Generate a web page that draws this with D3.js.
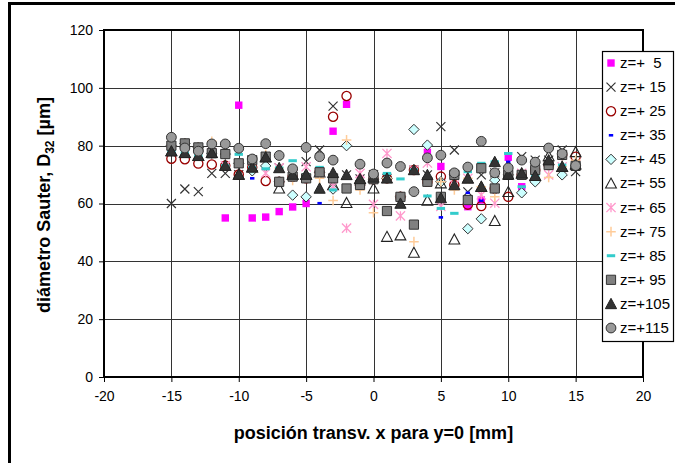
<!DOCTYPE html>
<html>
<head>
<meta charset="utf-8">
<script src="https://cdn.jsdelivr.net/npm/d3@7"></script>
<style>
  body { margin: 0; background: #fff; }
  svg { display: block; }
  text { font-family: "Liberation Sans", Arial, sans-serif; fill: #000; }
</style>
</head>
<body>
<div id="chart"></div>
<script>
// transverse positions (mm)
const xPositions = [-15, -14, -13, -12, -11, -10, -9, -8, -7, -6, -5, -4, -3, -2, -1, 0,
                    1, 2, 3, 4, 5, 6, 7, 8, 9, 10, 11, 12, 13, 14, 15];

const seriesLabels = ["z=+  5", "z=+ 15", "z=+ 25", "z=+ 35", "z=+ 45", "z=+ 55",
                      "z=+ 65", "z=+ 75", "z=+ 85", "z=+ 95", "z=+105", "z=+115"];

const xTicks = [-20, -15, -10, -5, 0, 5, 10, 15, 20];
const yTicks = [0, 20, 40, 60, 80, 100, 120];

// D32 values, one array per axial position
const z5   = [79, 80.8, 79.4, 77.4, 55, 94, 55, 55.3, 57.2, 58.8, 60, 70.8, 85, 94.3, 66.4, 68.4, 57.4, 62.3, 52.7, 77.7, 72.8, 69.9, 58.9, 61.2, 65.2, 76, 65.8, 71.6, 73.3, 76.8, 73];
const z15  = [60, 65, 64.1, 70.4, 70.4, 70, 72.5, 76.2, 72.3, 70, 74.5, 78.5, 93.7, 69.9, 68.5, 70, 68.7, 60, 71.6, 69.9, 86.6, 78.5, 64, 69.9, 70.6, 69.9, 76.2, 75, 75, 78.5, 71];
const z25  = [75.5, 75.3, 73.8, 73.5, 73.1, 70, 72.5, 67.8, 67.5, 69.3, 68.7, 70.8, 90, 97.2, 66.4, 68.4, 68.7, 62.3, 71.6, 67.5, 69.3, 66.4, 59.6, 59.1, 65.2, 62.3, 69.9, 71.6, 73.3, 76.8, 76.2];
const z35  = [78.1, 77.5, 76.5, 77.5, 73.1, 70, 68.7, 76, 72.3, 70, 62.9, 60.1, 70.6, 69.9, 68.5, 69, 68.7, 60, 71.6, 69.9, 55.2, 66.4, 63.7, 61, 74.4, 74.4, 70.4, 69.6, 75, 72.7, 73.5];
const z45  = [80, 80.8, 79.4, 77.4, 77.1, 73.9, 71.3, 73, 67.5, 62.9, 62.3, 70.8, 65, 80, 66.4, 68.4, 68.7, 62.3, 85.6, 80.2, 67.5, 69.9, 51.3, 54.7, 68.1, 69.9, 63.7, 67.5, 73.3, 69.9, 73];
const z55  = [78.1, 77.5, 76.5, 77.5, 73.1, 70, 72.5, 76, 65.2, 70, 70, 70.8, 66.4, 60.2, 68.5, 65.2, 48.5, 49, 43, 61, 67, 47.6, 68.7, 65.8, 54, 64, 70.4, 69.6, 76.4, 72.7, 77.8];
const z65  = [78.1, 77.5, 76.5, 77.5, 73.1, 73.9, 72.5, 70.5, 72.3, 70, 72.7, 70.8, 66, 51.5, 70.4, 59.7, 77.3, 55.7, 71.6, 74, 59, 66.4, 68.7, 63, 60.1, 70, 70.4, 69.6, 69.9, 72.7, 73.5];
const z75  = [80, 80.8, 79.4, 81.5, 77.1, 73.9, 75, 77, 72.3, 68, 70, 68.7, 61, 82, 64.7, 56.8, 68.7, 62.3, 46.8, 67.5, 67.5, 64.7, 68.7, 65.8, 62.3, 69.9, 70.4, 71.6, 69, 72.7, 75];
const z85  = [78.1, 77.5, 76.5, 77.5, 73.1, 77, 72.5, 72, 72.3, 74.8, 70, 72.5, 64.7, 65.2, 66.4, 70.4, 70.4, 68.5, 71.6, 62.6, 58.3, 56.6, 71, 73.9, 74.4, 77.3, 65.8, 69.6, 73.3, 73.3, 73.5];
const z95  = [80, 80.8, 79.4, 77.4, 77.1, 73.9, 75, 76.2, 67.5, 69.3, 68.7, 70.8, 68.7, 65.2, 66.4, 68.4, 57.4, 62.3, 52.7, 67.5, 62.3, 69.9, 61.2, 72.2, 65.2, 69.9, 69.9, 71.6, 73.3, 76.8, 73];
const z105 = [78.1, 77.5, 76.5, 77.5, 73.1, 70, 72.5, 76, 72.3, 70, 70, 65.2, 70.6, 69.9, 68.5, 69, 68.7, 60, 71.6, 69.9, 61.9, 66.4, 68.7, 65.8, 74.4, 70, 70.4, 69.6, 75, 72.7, 73.5];
const z115 = [82.9, 79.2, 78.1, 80.6, 80.6, 79.1, 75.4, 80.7, 76.6, 72, 79.4, 76.2, 75, null, 73.6, 70.2, 74, 72.8, 64.1, 75.8, 76.7, 70.6, 72.6, 81.5, 70.6, 72.3, 75, 74.3, 79.2, 77.2, 73.1];

const allSeries = [z5, z15, z25, z35, z45, z55, z65, z75, z85, z95, z105, z115];

// marker look for each series (same order)
const markerStyles = [
  {shape: "square",   size: 3.7, fill: "#ff00ff", stroke: "none"},
  {shape: "x",        size: 4.5, fill: "none",    stroke: "#333", width: 1.2},
  {shape: "circle",   size: 4.6, fill: "none",    stroke: "#990000", width: 1.3},
  {shape: "dash",     size: 2.2, fill: "#0000ff", stroke: "none", h: 1.3},
  {shape: "diamond",  size: 5.2, fill: "#ccffff", stroke: "#333", width: 1},
  {shape: "triangle", size: 5.4, fill: "none",    stroke: "#222", width: 1.1},
  {shape: "asterisk", size: 4.6, fill: "none",    stroke: "#ff99cc", width: 1.3},
  {shape: "plus",     size: 4.8, fill: "none",    stroke: "#ffcc99", width: 1.5},
  {shape: "dash",     size: 4.2, fill: "#33cccc", stroke: "none", h: 1.5},
  {shape: "square",   size: 4.6, fill: "#808080", stroke: "#333", width: 1},
  {shape: "triangle", size: 5.6, fill: "#333333", stroke: "#222", width: 1},
  {shape: "circle",   size: 4.9, fill: "#999999", stroke: "#333", width: 1}
];

function markerPath(st) {
  const s = st.size;
  switch (st.shape) {
    case "square": return `M${-s},${-s}H${s}V${s}H${-s}Z`;
    case "circle": return `M${s},0A${s},${s} 0 1,1 ${-s},0A${s},${s} 0 1,1 ${s},0Z`;
    case "diamond": return `M0,${-s}L${s},0L0,${s}L${-s},0Z`;
    case "triangle": return `M0,${-s}L${s},${s * 0.85}L${-s},${s * 0.85}Z`;
    case "x": return `M${-s},${-s}L${s},${s}M${-s},${s}L${s},${-s}`;
    case "plus": return `M${-s},0H${s}M0,${-s}V${s}`;
    case "asterisk": return `M${-s},${-s}L${s},${s}M${-s},${s}L${s},${-s}M0,${-s}V${s}`;
    case "dash": return `M${-s},${-st.h}H${s}V${st.h}H${-s}Z`;
  }
}

const W = 675, H = 463;
const plot = {left: 104, right: 643, top: 30, bottom: 377};

const svg = d3.select("#chart").append("svg")
  .attr("width", W)
  .attr("height", H);

// outer chart frame
svg.append("rect")
  .attr("x", 9.5).attr("y", 3.5)
  .attr("width", 720).attr("height", 520)
  .attr("fill", "none").attr("stroke", "#000").attr("stroke-width", 3);

const x = d3.scaleLinear().domain([-20, 20]).range([plot.left, plot.right]);
const y = d3.scaleLinear().domain([0, 120]).range([plot.bottom, plot.top]);

// gridlines
svg.append("g").selectAll("line")
  .data(yTicks.filter(d => d > 0 && d < 120))
  .join("line")
  .attr("x1", plot.left).attr("x2", plot.right)
  .attr("y1", d => Math.round(y(d)) + 0.5).attr("y2", d => Math.round(y(d)) + 0.5)
  .attr("stroke", "#333").attr("stroke-width", 1);

svg.append("g").selectAll("line")
  .data(xTicks.filter(d => d > -20 && d < 20))
  .join("line")
  .attr("x1", d => Math.round(x(d)) + 0.5).attr("x2", d => Math.round(x(d)) + 0.5)
  .attr("y1", plot.top).attr("y2", plot.bottom)
  .attr("stroke", "#333").attr("stroke-width", 1);

// axes (ticks + labels), plain hyphen minus like the original
const xAxis = d3.axisBottom(x).tickValues(xTicks).tickSize(5).tickPadding(9).tickFormat(d => String(d));
const yAxis = d3.axisLeft(y).tickValues(yTicks).tickSize(5).tickPadding(6).tickFormat(d => String(d));

const gx = svg.append("g").attr("transform", `translate(0,${plot.bottom})`).call(xAxis);
const gy = svg.append("g").attr("transform", `translate(${plot.left},0)`).call(yAxis);
[gx, gy].forEach(g => {
  g.select(".domain").remove();
  g.selectAll(".tick line").attr("stroke", "#000");
  g.selectAll(".tick text")
    .style("font-size", "14px")
    .attr("fill", "#000");
});

// plot border
svg.append("rect")
  .attr("x", plot.left).attr("y", plot.top)
  .attr("width", plot.right - plot.left).attr("height", plot.bottom - plot.top)
  .attr("fill", "none").attr("stroke", "#000").attr("stroke-width", 2);

// data markers
const marks = svg.append("g");
allSeries.forEach((vals, i) => {
  const st = markerStyles[i];
  const pts = xPositions.map((xp, j) => ({x: xp, v: vals[j]})).filter(d => d.v != null);
  marks.append("g").selectAll("path")
    .data(pts)
    .join("path")
    .attr("transform", d => `translate(${x(d.x)},${y(d.v)})`)
    .attr("d", markerPath(st))
    .attr("fill", st.fill)
    .attr("stroke", st.stroke)
    .attr("stroke-width", st.width || 1);
});

// axis titles
svg.append("text")
  .attr("x", (plot.left + plot.right) / 2).attr("y", 439)
  .attr("text-anchor", "middle")
  .style("font-size", "18px").style("font-weight", "bold")
  .text("posición transv. x para y=0 [mm]");

const yTitle = svg.append("text")
  .attr("transform", "translate(50,205) rotate(-90)")
  .attr("text-anchor", "middle")
  .style("font-size", "18px").style("font-weight", "bold");
yTitle.append("tspan").text("diámetro Sauter, D");
yTitle.append("tspan").attr("dy", 4).style("font-size", "12px").text("32");
yTitle.append("tspan").attr("dy", -4).text(" [µm]");

// legend
const legend = svg.append("g");
legend.append("rect")
  .attr("x", 602.5).attr("y", 51.5)
  .attr("width", 71).attr("height", 290)
  .attr("fill", "#fff").attr("stroke", "#000").attr("stroke-width", 1.2);

const rowY = d3.scalePoint().domain(seriesLabels).range([63, 328]);
seriesLabels.forEach((lab, i) => {
  const g = legend.append("g").attr("transform", `translate(611,${rowY(lab)})`);
  const st = markerStyles[i];
  g.append("path")
    .attr("d", markerPath(st))
    .attr("fill", st.fill)
    .attr("stroke", st.stroke)
    .attr("stroke-width", st.width || 1);
  g.append("text")
    .attr("x", 9).attr("y", 5)
    .style("font-size", "15px")
    .style("white-space", "pre")
    .text(lab);
});
</script>
</body>
</html>
